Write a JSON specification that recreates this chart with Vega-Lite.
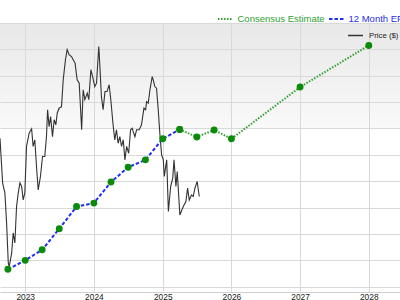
{
  "$schema": "https://vega.github.io/schema/vega-lite/v6.json",
  "width": 400,
  "height": 269,
  "autosize": {"type": "none"},
  "padding": {"left": 0, "top": 23, "right": 0, "bottom": 8},
  "background": "#ffffff",
  "datasets": {
    "price": [
      {"date": "2022-08-20", "price": 5.63},
      {"date": "2022-09-03", "price": 3.93},
      {"date": "2022-09-15", "price": 3.56},
      {"date": "2022-09-24", "price": 2.42},
      {"date": "2022-10-03", "price": 0.90},
      {"date": "2022-10-08", "price": 0.76},
      {"date": "2022-10-21", "price": 1.28},
      {"date": "2022-10-29", "price": 2.04},
      {"date": "2022-11-07", "price": 1.66},
      {"date": "2022-11-16", "price": 3.04},
      {"date": "2022-11-25", "price": 3.56},
      {"date": "2022-12-04", "price": 3.94},
      {"date": "2022-12-13", "price": 3.80},
      {"date": "2022-12-21", "price": 3.29},
      {"date": "2022-12-30", "price": 3.56},
      {"date": "2023-01-08", "price": 5.32},
      {"date": "2023-01-22", "price": 5.82},
      {"date": "2023-02-04", "price": 5.99},
      {"date": "2023-02-12", "price": 5.32},
      {"date": "2023-02-21", "price": 5.57},
      {"date": "2023-03-02", "price": 4.56},
      {"date": "2023-03-11", "price": 3.67},
      {"date": "2023-03-23", "price": 4.18},
      {"date": "2023-04-03", "price": 4.94},
      {"date": "2023-04-15", "price": 4.94},
      {"date": "2023-04-24", "price": 5.69},
      {"date": "2023-04-30", "price": 6.71},
      {"date": "2023-05-08", "price": 6.07},
      {"date": "2023-05-16", "price": 6.45},
      {"date": "2023-05-26", "price": 5.69},
      {"date": "2023-06-04", "price": 6.33},
      {"date": "2023-06-13", "price": 6.14},
      {"date": "2023-06-20", "price": 6.58},
      {"date": "2023-06-30", "price": 6.77},
      {"date": "2023-07-13", "price": 6.83},
      {"date": "2023-07-22", "price": 7.85},
      {"date": "2023-08-03", "price": 8.61},
      {"date": "2023-08-12", "price": 8.99},
      {"date": "2023-08-22", "price": 8.80},
      {"date": "2023-09-04", "price": 8.73},
      {"date": "2023-09-13", "price": 8.61},
      {"date": "2023-09-23", "price": 8.48},
      {"date": "2023-10-04", "price": 7.85},
      {"date": "2023-10-15", "price": 7.72},
      {"date": "2023-10-28", "price": 5.95},
      {"date": "2023-11-05", "price": 7.47},
      {"date": "2023-11-14", "price": 7.09},
      {"date": "2023-11-27", "price": 7.34},
      {"date": "2023-12-05", "price": 7.09},
      {"date": "2023-12-16", "price": 8.23},
      {"date": "2023-12-25", "price": 7.97},
      {"date": "2024-01-06", "price": 7.59},
      {"date": "2024-01-15", "price": 7.72},
      {"date": "2024-01-27", "price": 9.11},
      {"date": "2024-02-01", "price": 8.48},
      {"date": "2024-02-10", "price": 7.21},
      {"date": "2024-02-19", "price": 6.71},
      {"date": "2024-02-29", "price": 7.40},
      {"date": "2024-03-11", "price": 7.40},
      {"date": "2024-03-22", "price": 7.66},
      {"date": "2024-03-31", "price": 7.09},
      {"date": "2024-04-12", "price": 6.14},
      {"date": "2024-04-21", "price": 5.57},
      {"date": "2024-04-30", "price": 5.95},
      {"date": "2024-05-09", "price": 5.44},
      {"date": "2024-05-18", "price": 5.69},
      {"date": "2024-05-27", "price": 5.32},
      {"date": "2024-06-05", "price": 5.57},
      {"date": "2024-06-14", "price": 4.81},
      {"date": "2024-06-23", "price": 5.32},
      {"date": "2024-07-04", "price": 5.06},
      {"date": "2024-07-14", "price": 5.95},
      {"date": "2024-07-23", "price": 6.01},
      {"date": "2024-07-28", "price": 5.88},
      {"date": "2024-08-06", "price": 5.69},
      {"date": "2024-08-15", "price": 5.95},
      {"date": "2024-08-29", "price": 5.95},
      {"date": "2024-09-10", "price": 6.14},
      {"date": "2024-09-23", "price": 6.77},
      {"date": "2024-10-02", "price": 6.71},
      {"date": "2024-10-07", "price": 7.02},
      {"date": "2024-10-16", "price": 6.96},
      {"date": "2024-10-25", "price": 7.47},
      {"date": "2024-11-06", "price": 7.97},
      {"date": "2024-11-11", "price": 7.85},
      {"date": "2024-11-20", "price": 7.59},
      {"date": "2024-11-29", "price": 7.53},
      {"date": "2024-12-08", "price": 6.71},
      {"date": "2024-12-17", "price": 5.76},
      {"date": "2024-12-26", "price": 5.00},
      {"date": "2025-01-04", "price": 4.81},
      {"date": "2025-01-09", "price": 4.18},
      {"date": "2025-01-22", "price": 4.81},
      {"date": "2025-01-31", "price": 2.85},
      {"date": "2025-02-12", "price": 3.80},
      {"date": "2025-02-23", "price": 4.12},
      {"date": "2025-03-02", "price": 4.81},
      {"date": "2025-03-12", "price": 3.80},
      {"date": "2025-03-19", "price": 4.37},
      {"date": "2025-04-02", "price": 2.72},
      {"date": "2025-04-20", "price": 3.04},
      {"date": "2025-05-04", "price": 3.23},
      {"date": "2025-05-13", "price": 3.74},
      {"date": "2025-05-22", "price": 3.29},
      {"date": "2025-06-03", "price": 3.48},
      {"date": "2025-06-12", "price": 3.42},
      {"date": "2025-06-21", "price": 3.74},
      {"date": "2025-07-03", "price": 3.99},
      {"date": "2025-07-14", "price": 3.42}
    ],
    "eps": [
      {"date": "2022-10-01", "eps": 0.66, "series": "12 Month EPS"},
      {"date": "2023-01-01", "eps": 1.00, "series": "12 Month EPS"},
      {"date": "2023-04-01", "eps": 1.40, "series": "12 Month EPS"},
      {"date": "2023-07-01", "eps": 2.20, "series": "12 Month EPS"},
      {"date": "2023-10-01", "eps": 3.04, "series": "12 Month EPS"},
      {"date": "2024-01-01", "eps": 3.17, "series": "12 Month EPS"},
      {"date": "2024-04-01", "eps": 3.97, "series": "12 Month EPS"},
      {"date": "2024-07-01", "eps": 4.53, "series": "12 Month EPS"},
      {"date": "2024-10-01", "eps": 4.81, "series": "12 Month EPS"},
      {"date": "2025-01-01", "eps": 5.61, "series": "12 Month EPS"},
      {"date": "2025-04-01", "eps": 5.96, "series": "12 Month EPS"},
      {"date": "2025-04-01", "eps": 5.96, "series": "Consensus Estimate"},
      {"date": "2025-07-01", "eps": 5.68, "series": "Consensus Estimate"},
      {"date": "2025-10-01", "eps": 5.94, "series": "Consensus Estimate"},
      {"date": "2026-01-01", "eps": 5.61, "series": "Consensus Estimate"},
      {"date": "2027-01-01", "eps": 7.57, "series": "Consensus Estimate"},
      {"date": "2028-01-01", "eps": 9.15, "series": "Consensus Estimate"}
    ]
  },
  "encoding": {
    "x": {
      "field": "date",
      "type": "temporal",
      "scale": {
        "type": "utc",
        "domain": [
          {"year": 2022, "month": 8, "date": 20, "utc": true},
          {"year": 2028, "month": 6, "date": 15, "utc": true}
        ]
      },
      "axis": {
        "title": null,
        "format": "%Y",
        "tickCount": {"interval": "year", "step": 1},
        "grid": true,
        "gridColor": "#d9d9d9",
        "gridWidth": 1,
        "domainColor": "#cfcfcf",
        "ticks": false,
        "labelFlush": false,
        "labelFont": "Liberation Sans",
        "labelFontSize": 8.4,
        "labelColor": "#222222",
        "labelPadding": 0
      }
    }
  },
  "layer": [
    {
      "data": {"name": "price"},
      "mark": {"type": "line", "strokeWidth": 1.1, "clip": true},
      "encoding": {
        "y": {
          "field": "price",
          "type": "quantitative",
          "scale": {"domain": [-0.2, 10], "nice": false, "zero": false},
          "axis": {
            "title": null,
            "values": [0, 1, 2, 3, 4, 5, 6, 7, 8, 9, 10],
            "labelOverlap": false,
            "grid": true,
            "gridColor": "#d9d9d9",
            "labels": false,
            "ticks": false,
            "domain": false
          }
        },
        "stroke": {
          "datum": "Price ($)",
          "type": "nominal",
          "scale": {"domain": ["Price ($)"], "range": ["#333333"]},
          "legend": {
            "title": null,
            "orient": "none",
            "legendX": 347,
            "legendY": 4,
            "symbolType": "stroke",
            "symbolSize": 225,
            "symbolStrokeWidth": 1.5,
            "labelFont": "Liberation Sans",
            "labelFontSize": 7.8,
            "labelColor": "#222222",
            "labelOffset": 5,
            "padding": 0
          }
        }
      }
    },
    {
      "data": {"name": "eps"},
      "mark": {"type": "line", "strokeWidth": 2, "clip": true},
      "encoding": {
        "y": {
          "field": "eps",
          "type": "quantitative",
          "axis": {
            "title": null,
            "values": [0, 1, 2, 3, 4, 5, 6, 7, 8, 9, 10],
            "labelOverlap": false,
            "grid": true,
            "gridColor": "#d9d9d9",
            "labels": false,
            "ticks": false,
            "domain": false
          }
        },
        "color": {
          "field": "series",
          "type": "nominal",
          "scale": {
            "domain": ["Consensus Estimate", "12 Month EPS"],
            "range": ["#2fa02f", "#1f2fee"]
          },
          "legend": {
            "title": null,
            "orient": "none",
            "legendX": 217,
            "legendY": -12.5,
            "direction": "horizontal",
            "symbolType": "stroke",
            "symbolSize": 225,
            "symbolStrokeWidth": 2,
            "labelFont": "Liberation Sans",
            "labelFontSize": 9.5,
            "labelOffset": 3.5,
            "columnPadding": 0,
            "labelLimit": 300,
            "padding": 0,
            "encode": {
              "labels": {"update": {"fill": {"scale": "color", "field": "value"}}}
            }
          }
        },
        "strokeDash": {
          "field": "series",
          "type": "nominal",
          "scale": {
            "domain": ["Consensus Estimate", "12 Month EPS"],
            "range": [[1.5, 1.5], [3.5, 2]]
          },
          "legend": {
            "title": null,
            "orient": "none",
            "legendX": 217,
            "legendY": -12.5,
            "direction": "horizontal",
            "symbolType": "stroke",
            "symbolSize": 225,
            "symbolStrokeWidth": 2,
            "labelFont": "Liberation Sans",
            "labelFontSize": 9.5,
            "labelOffset": 3.5,
            "columnPadding": 0,
            "labelLimit": 300,
            "padding": 0,
            "encode": {
              "labels": {"update": {"fill": {"scale": "color", "field": "value"}}}
            }
          }
        }
      }
    },
    {
      "data": {"name": "eps"},
      "mark": {"type": "circle", "size": 48, "color": "#0a8c0a", "opacity": 1, "clip": true},
      "encoding": {
        "y": {
          "field": "eps",
          "type": "quantitative",
          "axis": {
            "title": null,
            "values": [0, 1, 2, 3, 4, 5, 6, 7, 8, 9, 10],
            "labelOverlap": false,
            "grid": true,
            "gridColor": "#d9d9d9",
            "labels": false,
            "ticks": false,
            "domain": false
          }
        }
      }
    }
  ],
  "config": {
    "view": {
      "stroke": null,
      "fill": {
        "gradient": "linear",
        "x1": 0, "y1": 0, "x2": 0, "y2": 1,
        "stops": [
          {"offset": 0, "color": "#e8e8e8"},
          {"offset": 0.39, "color": "#f9f9f9"},
          {"offset": 0.4, "color": "#ffffff"},
          {"offset": 1, "color": "#ffffff"}
        ]
      }
    },
    "font": "Liberation Sans"
  }
}
